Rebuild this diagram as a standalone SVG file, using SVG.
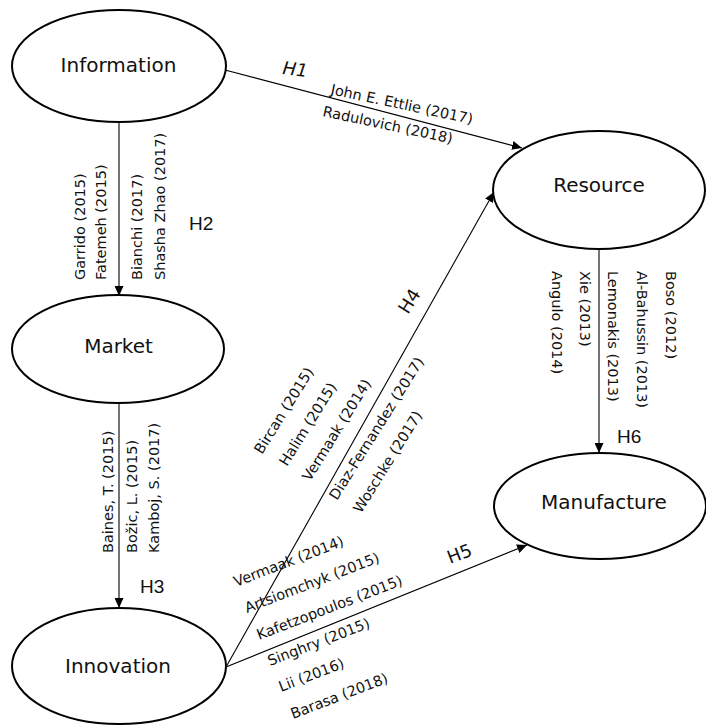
<svg xmlns="http://www.w3.org/2000/svg" width="706" height="725" viewBox="0 0 706 725">
<style>
.node ellipse{fill:#fff;stroke:#000;stroke-width:2}
.node text{font-family:"DejaVu Sans",sans-serif;font-size:20px;fill:#111;text-anchor:middle}
.edge line{stroke:#000;stroke-width:1.1;fill:none}
.lbl{font-family:"DejaVu Sans",sans-serif;font-size:14.5px;fill:#111}
.h{font-family:"Liberation Sans",Arial,sans-serif;font-size:19px;fill:#111}
.hd{font-family:"DejaVu Sans",sans-serif;font-size:18px;fill:#111}
</style>
<defs>
<marker id="ah" viewBox="0 0 10 9" refX="10" refY="4.5" markerWidth="10" markerHeight="9" markerUnits="userSpaceOnUse" orient="auto">
<path d="M0,0 L10,4.5 L0,9 z" fill="#000"/>
</marker>
</defs>
<rect width="706" height="725" fill="#fff"/>

<g id="connectors" class="edge">
<line x1="225" y1="70" x2="522" y2="148" marker-end="url(#ah)"/>
<line x1="119" y1="122" x2="119" y2="296" marker-end="url(#ah)"/>
<line x1="119" y1="403" x2="119" y2="608" marker-end="url(#ah)"/>
<line x1="599" y1="249" x2="599" y2="453" marker-end="url(#ah)"/>
<line x1="226" y1="667" x2="494" y2="192" marker-end="url(#ah)"/>
<line x1="226" y1="667" x2="527" y2="545" marker-end="url(#ah)"/>
</g>

<g id="information" class="node">
<ellipse cx="119" cy="66" rx="107" ry="56"/>
<text x="118.5" y="72">Information</text>
</g>
<g id="market" class="node">
<ellipse cx="118" cy="349" rx="106" ry="54"/>
<text x="118.5" y="353">Market</text>
</g>
<g id="innovation" class="node">
<ellipse cx="119" cy="666" rx="107" ry="58"/>
<text x="118" y="673">Innovation</text>
</g>
<g id="resource" class="node">
<ellipse cx="599" cy="190" rx="106" ry="59"/>
<text x="599" y="192">Resource</text>
</g>
<g id="manufacture" class="node">
<ellipse cx="600" cy="506" rx="106" ry="53"/>
<text x="604" y="509">Manufacture</text>
</g>

<g id="labels-h1">
<text class="hd" font-style="italic" transform="translate(282,74) rotate(7)">H1</text>
<text class="lbl" transform="translate(330,94) rotate(12)">John E. Ettlie (2017)</text>
<text class="lbl" transform="translate(322,116) rotate(12)">Radulovich (2018)</text>
</g>

<g id="labels-h2">
<text class="h" x="189" y="230">H2</text>
<text class="lbl" transform="translate(85,280) rotate(-90)">Garrido (2015)</text>
<text class="lbl" transform="translate(106,280) rotate(-90)">Fatemeh (2015)</text>
<text class="lbl" transform="translate(142,280) rotate(-90)">Bianchi (2017)</text>
<text class="lbl" transform="translate(165,280) rotate(-90)">Shasha Zhao (2017)</text>
</g>

<g id="labels-h3">
<text class="h" x="140" y="593">H3</text>
<text class="lbl" transform="translate(113,553) rotate(-90)">Baines, T. (2015)</text>
<text class="lbl" transform="translate(137,553) rotate(-90)">Božic, L. (2015)</text>
<text class="lbl" transform="translate(159,553) rotate(-90)">Kamboj, S. (2017)</text>
</g>

<g id="labels-h6">
<text class="h" x="617" y="443">H6</text>
<text class="lbl" transform="translate(666,271) rotate(90)">Boso (2012)</text>
<text class="lbl" transform="translate(637,271) rotate(90)">Al-Bahussin (2013)</text>
<text class="lbl" transform="translate(608,271) rotate(90)">Lemonakis (2013)</text>
<text class="lbl" transform="translate(580,271) rotate(90)">Xie (2013)</text>
<text class="lbl" transform="translate(552,271) rotate(90)">Angulo (2014)</text>
</g>

<g id="labels-h4">
<text class="hd" transform="translate(408,315) rotate(-58)">H4</text>
<text class="lbl" transform="translate(262,455) rotate(-58)">Bircan (2015)</text>
<text class="lbl" transform="translate(287,467) rotate(-58)">Halim (2015)</text>
<text class="lbl" transform="translate(310,482) rotate(-58)">Vermaak (2014)</text>
<text class="lbl" transform="translate(337,501) rotate(-58)">Diaz-Fernandez (2017)</text>
<text class="lbl" transform="translate(361,514) rotate(-58)">Woschke (2017)</text>
</g>

<g id="labels-h5">
<text class="hd" transform="translate(450,564) rotate(-21)">H5</text>
<text class="lbl" transform="translate(236,587) rotate(-21)">Vermaak (2014)</text>
<text class="lbl" transform="translate(247,613) rotate(-21)">Artsiomchyk (2015)</text>
<text class="lbl" transform="translate(259,640) rotate(-21)">Kafetzopoulos (2015)</text>
<text class="lbl" transform="translate(270,666) rotate(-21)">Singhry (2015)</text>
<text class="lbl" transform="translate(281,692) rotate(-21)">Lii (2016)</text>
<text class="lbl" transform="translate(293,719) rotate(-21)">Barasa (2018)</text>
</g>
</svg>
